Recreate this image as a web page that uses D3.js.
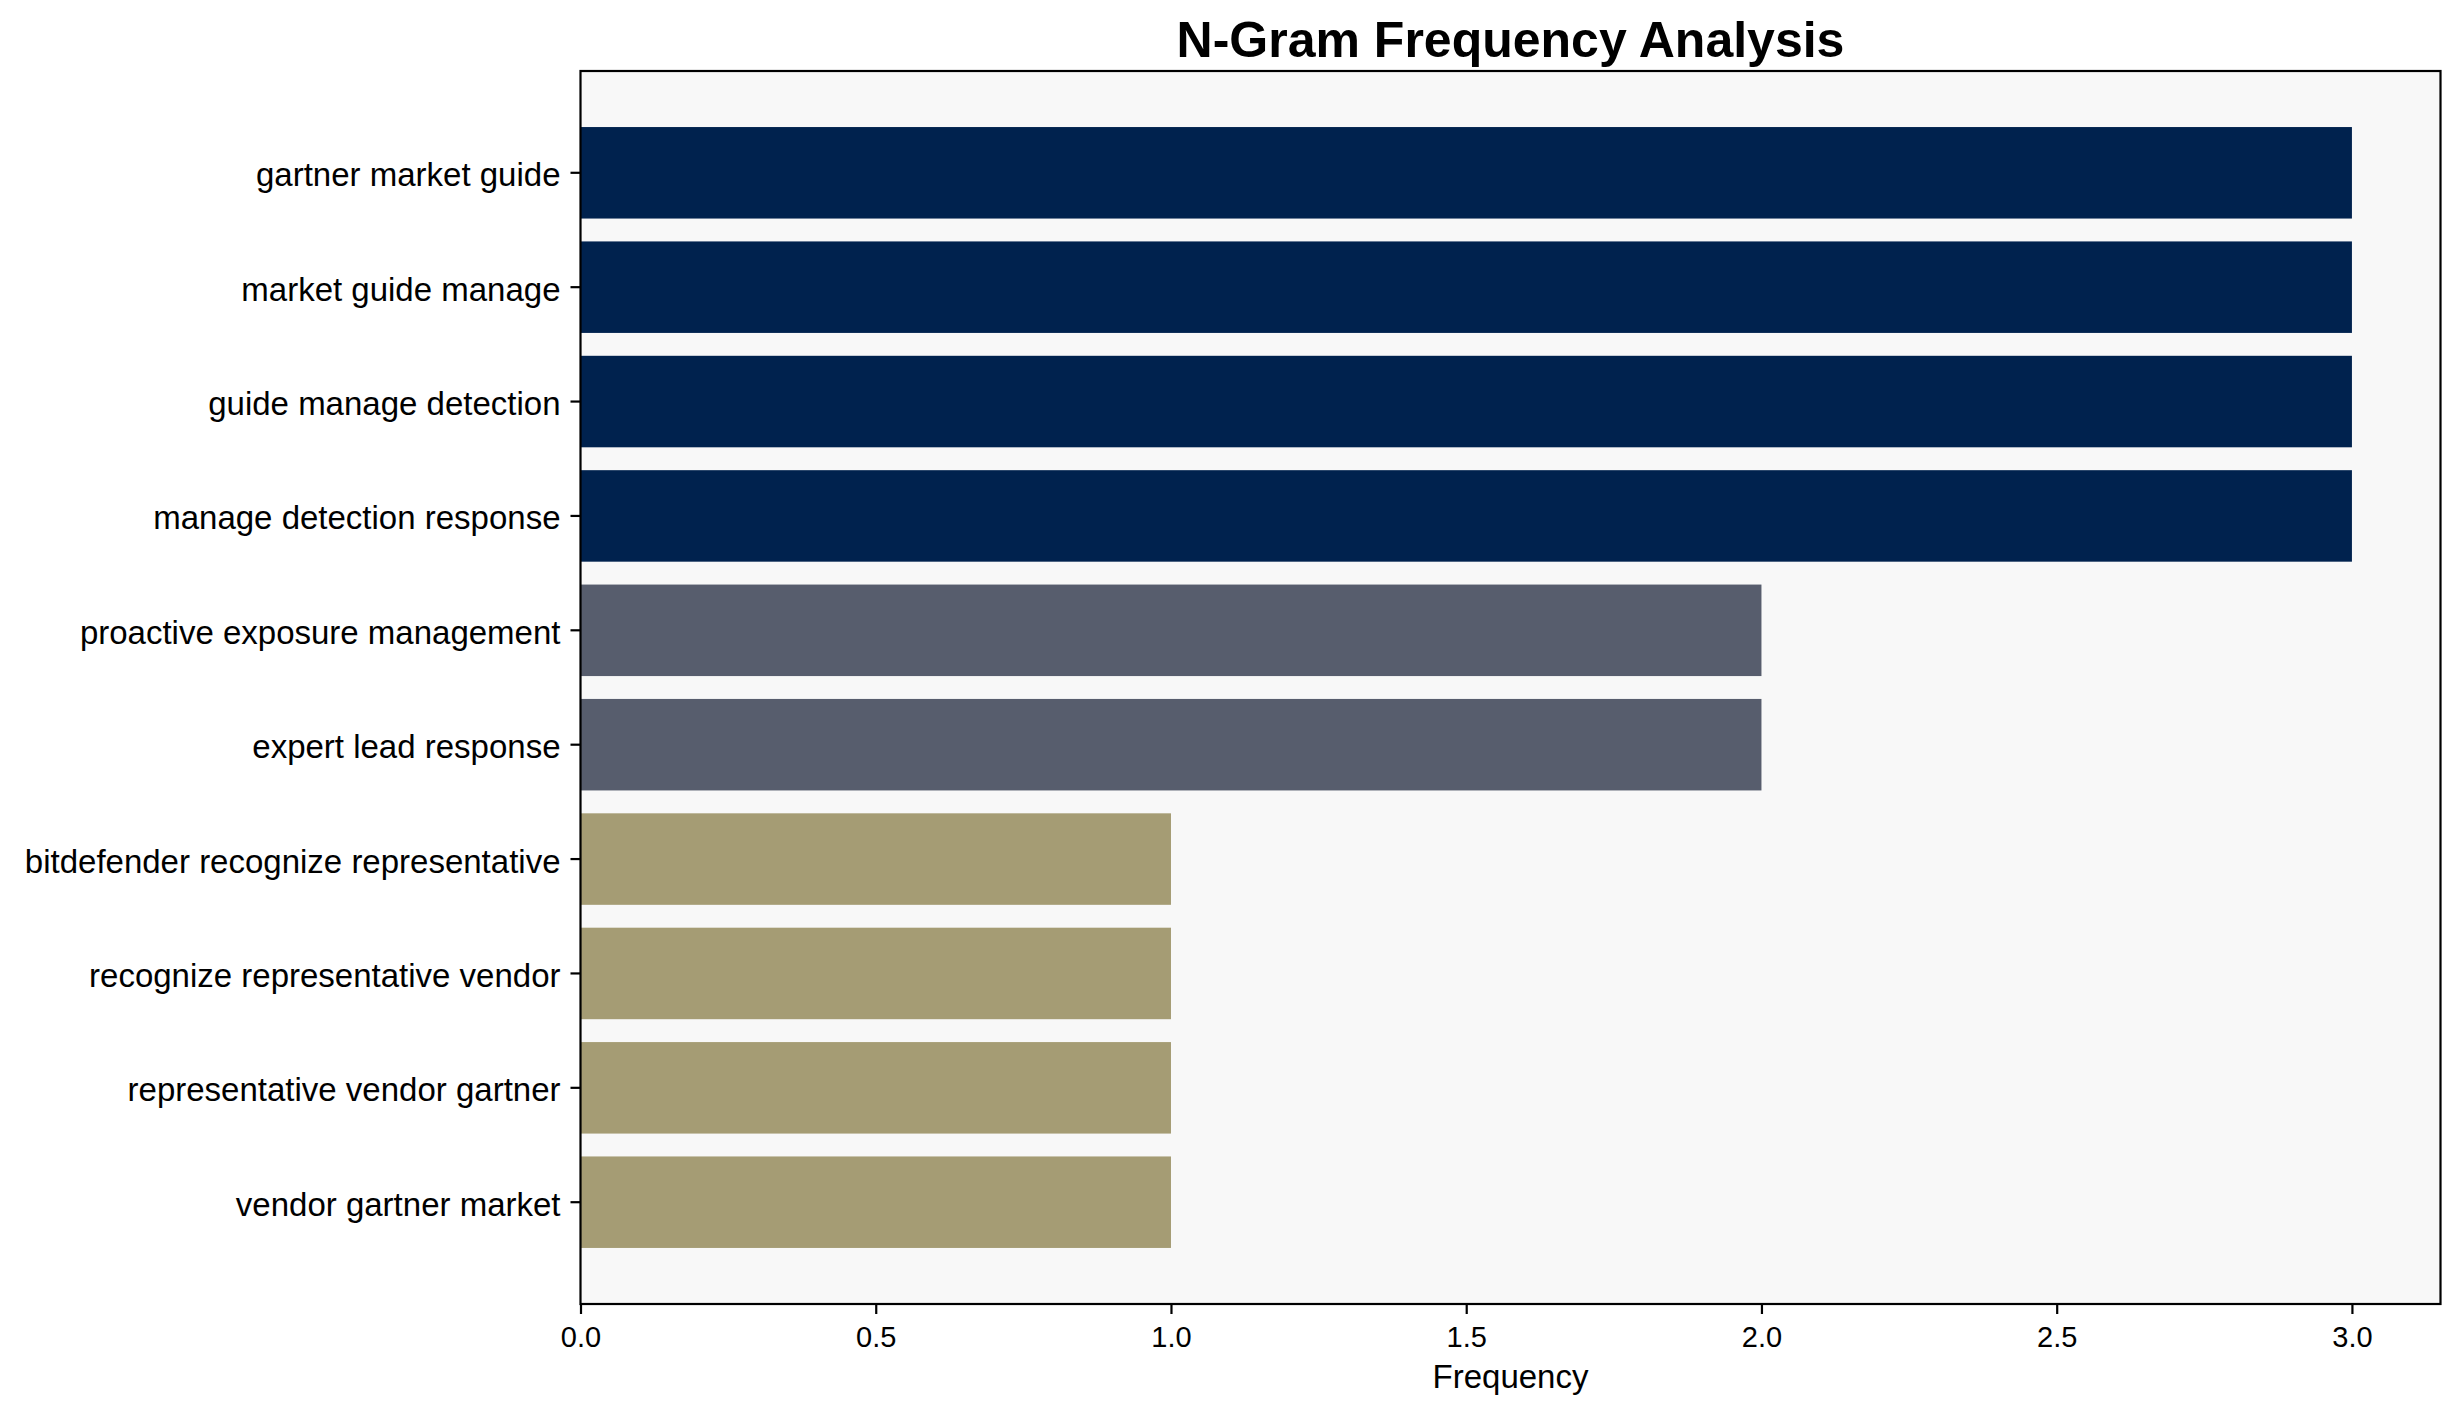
<!DOCTYPE html>
<html>
<head>
<meta charset="utf-8">
<script src="https://cdn.jsdelivr.net/npm/d3@7"></script>
<style>
  body { margin: 0; background: #ffffff; }
  svg { display: block; font-family: "Liberation Sans", Arial, sans-serif; }
</style>
</head>
<body>
<div id="chart"></div>
<script>
// n-grams, top to bottom
var ngrams = [
    "gartner market guide",
    "market guide manage",
    "guide manage detection",
    "manage detection response",
    "proactive exposure management",
    "expert lead response",
    "bitdefender recognize representative",
    "recognize representative vendor",
    "representative vendor gartner",
    "vendor gartner market"
];
var frequencies = [3, 3, 3, 3, 2, 2, 1, 1, 1, 1];
var xTicks = [0, 0.5, 1, 1.5, 2, 2.5, 3];

var chartTitle = "N-Gram Frequency Analysis";
var xTitle = "Frequency";

// colour per frequency level
var palette = {3: "#00224e", 2: "#575d6d", 1: "#a59c74"};

var width = 2460, height = 1414;
var margin = {top: 71, left: 580.5, right: 19.5, bottom: 110};
var plotW = width - margin.left - margin.right;
var plotH = height - margin.top - margin.bottom;

var svg = d3.select("#chart").append("svg")
    .attr("width", width)
    .attr("height", height);

svg.append("rect")
    .attr("width", width).attr("height", height)
    .attr("fill", "#ffffff");

var g = svg.append("g")
    .attr("transform", "translate(" + margin.left + "," + margin.top + ")");

// matplotlib style: 5% margin on the x max
var xScale = d3.scaleLinear()
    .domain([0, d3.max(frequencies) * 1.05])
    .range([0, plotW]);

var yScale = d3.scaleBand()
    .domain(ngrams)
    .range([0, plotH])
    .paddingInner(0.2)
    .paddingOuter(0.49);

// plot background
g.append("rect")
    .attr("width", plotW).attr("height", plotH)
    .attr("fill", "#f8f8f8");

// bars
var data = ngrams.map(function(d, i) { return {o: d, v: frequencies[i]}; });
g.selectAll(".bar")
    .data(data).enter()
    .append("rect")
        .attr("class", "bar")
        .attr("x", xScale(0))
        .attr("y", function(d) { return yScale(d.o); })
        .attr("width", function(d) { return xScale(d.v) - xScale(0); })
        .attr("height", yScale.bandwidth())
        .attr("fill", function(d) { return palette[d.v]; });

// x axis
var xAxis = g.append("g")
    .attr("transform", "translate(0," + plotH + ")")
    .call(d3.axisBottom(xScale)
        .tickValues(xTicks)
        .tickFormat(d3.format(".1f"))
        .tickSize(10)
        .tickSizeOuter(0)
        .tickPadding(12));
xAxis.select(".domain").remove();
xAxis.selectAll(".tick line").attr("stroke", "#000").attr("stroke-width", 2.2);
xAxis.selectAll(".tick text")
    .attr("fill", "#000")
    .style("font-size", "29px")
    .style("font-family", "'Liberation Sans', Arial, sans-serif");

// y axis
var yAxis = g.append("g")
    .call(d3.axisLeft(yScale)
        .tickSize(10)
        .tickSizeOuter(0)
        .tickPadding(10));
yAxis.select(".domain").remove();
yAxis.selectAll(".tick line").attr("stroke", "#000").attr("stroke-width", 2.2);
yAxis.selectAll(".tick text")
    .attr("fill", "#000")
    .attr("dy", "0.41em")
    .style("font-size", "33px")
    .style("font-family", "'Liberation Sans', Arial, sans-serif");

// spines
g.append("rect")
    .attr("width", plotW).attr("height", plotH)
    .attr("fill", "none")
    .attr("stroke", "#000")
    .attr("stroke-width", 2.2);

// title
svg.append("text")
    .attr("x", margin.left + plotW / 2)
    .attr("y", 57)
    .attr("text-anchor", "middle")
    .style("font-size", "50px")
    .style("font-weight", "bold")
    .text(chartTitle);

// x label
svg.append("text")
    .attr("x", margin.left + plotW / 2)
    .attr("y", 1388)
    .attr("text-anchor", "middle")
    .style("font-size", "33px")
    .text(xTitle);
</script>
</body>
</html>
